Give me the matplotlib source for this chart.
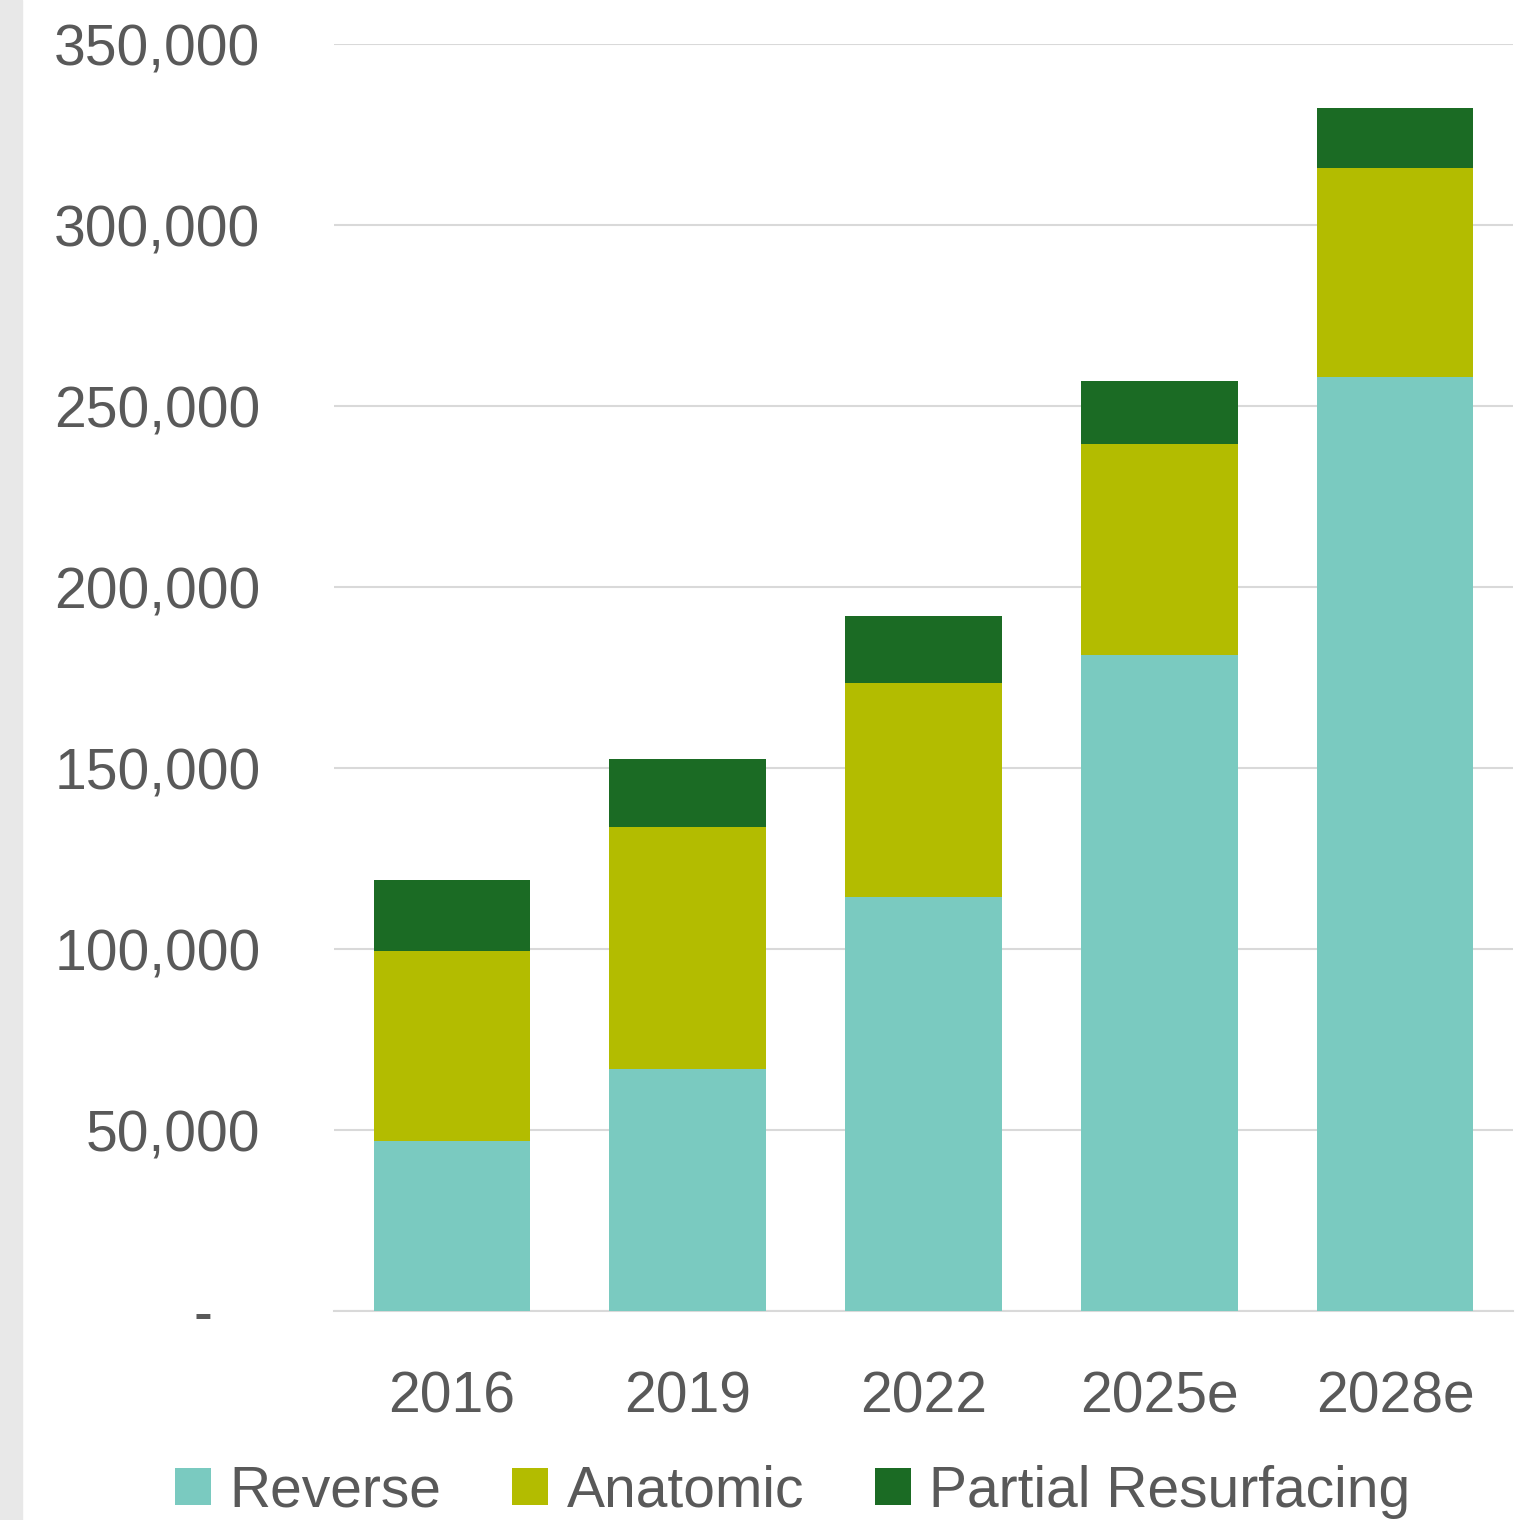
import matplotlib.pyplot as plt
from matplotlib.patches import Rectangle
from matplotlib.ticker import FuncFormatter

# Shoulder arthroplasty volumes by implant type
years = ['2016', '2019', '2022', '2025e', '2028e']
reverse = [47000, 66800, 114400, 181200, 258000]
anatomic = [52500, 66900, 59100, 58300, 57700]
partial = [19500, 18800, 18500, 17400, 16600]

colors = ['#7ACAC0', '#B3BC00', '#1B6B24']
text_color = '#595959'
grid_color = '#D9D9D9'

plt.rcParams['font.family'] = ['Liberation Sans', 'DejaVu Sans']

fig = plt.figure(figsize=(15.35, 15.2), dpi=100)
ax = fig.add_axes([0.2176, 0.1375, 0.768, 0.8335])

# light strip along the left edge
fig.patches.append(Rectangle((0, 0), 22 / 1535, 1, transform=fig.transFigure,
                             color='#E8E8E8', zorder=0))

x = range(len(years))
w = 0.665
bottom2 = [r + a for r, a in zip(reverse, anatomic)]
ax.bar(x, reverse, w, color=colors[0], label='Reverse', zorder=3)
ax.bar(x, anatomic, w, bottom=reverse, color=colors[1], label='Anatomic', zorder=3)
ax.bar(x, partial, w, bottom=bottom2, color=colors[2], label='Partial Resurfacing', zorder=3)

ax.set_xlim(-0.5, 4.5)
ax.set_ylim(0, 350000)
ax.set_yticks(range(0, 350001, 50000))
ax.yaxis.set_major_formatter(FuncFormatter(lambda v, p: f'{v:,.0f}' if v else '-   '))
ax.set_xticks(list(x))
ax.set_xticklabels(years)

ax.grid(axis='y', color=grid_color, linewidth=1.5, zorder=0)
ax.set_axisbelow(True)
for s in ['top', 'right', 'left']:
    ax.spines[s].set_visible(False)
ax.spines['bottom'].set_color(grid_color)
ax.spines['bottom'].set_linewidth(1.5)

ax.tick_params(axis='both', length=0, labelsize=41, labelcolor=text_color)
ax.tick_params(axis='y', pad=53)
ax.tick_params(axis='x', pad=43)

fig.legend(loc='center', bbox_to_anchor=(0.5166, 0.0185), ncol=3, frameon=False,
           fontsize=41, labelcolor=text_color, handlelength=0.63, handleheight=0.63,
           handletextpad=0.32, columnspacing=1.25, borderpad=0)

fig.savefig('out.png', dpi=100)
